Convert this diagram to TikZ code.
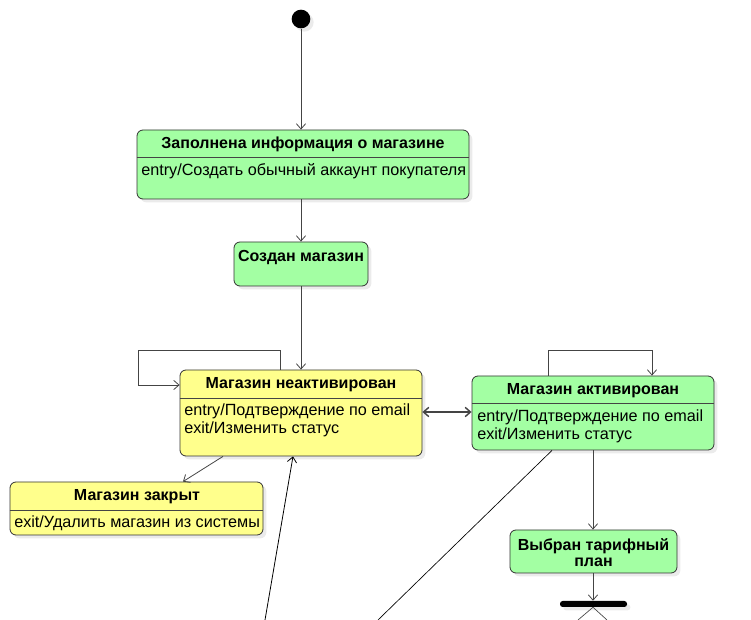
\documentclass[tikz,border=0pt]{standalone}
\usepackage{fontspec}
\setmainfont{Liberation Sans}
\usetikzlibrary{%
  arrows.meta,%
  calc,%
  fit,%
  shadows,%
}

\definecolor{stategreen}{RGB}{163,255,163}
\definecolor{stateyellow}{RGB}{255,255,140}
\definecolor{lineclr}{RGB}{68,68,68}

\tikzset{
  state/.style={draw=black!80, line width=0.6pt, rounded corners=4.5pt,
    inner sep=0pt, drop shadow={shadow xshift=2.5pt, shadow yshift=-2.5pt,
    fill=black!8, opacity=1}},
  greenstate/.style={state, fill=stategreen},
  yellowstate/.style={state, fill=stateyellow},
  title/.style={font=\fontsize{12}{12}\selectfont\bfseries, inner sep=0pt},
  action/.style={font=\fontsize{12.15}{13.5}\selectfont, anchor=west,
    inner sep=0pt},
  flow/.style={draw=lineclr, line width=0.6pt},
}

\begin{document}
\begin{tikzpicture}[x=0.75pt, y=-0.75pt,
    >={Straight Barb[length=4pt, width=7pt]}]

      \useasboundingbox (0, 0) rectangle (751, 620);

      % initial state
      \node [circle, fill=black, minimum size=14pt, inner sep=0pt,
        drop shadow={shadow xshift=2.5pt, shadow yshift=-2.5pt,
        fill=black!8, opacity=1}] (init) at (301, 19) {};

      % filled info
      \node [greenstate, fit={(137, 130) (469, 199)}] (info) {};
      \draw [flow] (info.west |- 0, 157) -- (info.east |- 0, 157);
      \node [title] (infoT) at (303, 144) {Заполнена информация о магазине};
      \node [action] (infoA) at (141, 171) {entry/Создать обычный аккаунт покупателя};

      % shop created
      \node [greenstate, fit={(234, 242) (368, 286)}] (created) {};
      \node [title] (createdT) at (301, 258) {Создан магазин};

      % shop inactive
      \node [yellowstate, fit={(180, 370) (422, 456)}] (inactive) {};
      \draw [flow] (inactive.west |- 0, 398) -- (inactive.east |- 0, 398);
      \node [title] (inactiveT) at (301, 385) {Магазин неактивирован};
      \node [action] (inactiveA) at (184, 411) {entry/Подтверждение по email};
      \node [action] (inactiveB) at (184, 429) {exit/Изменить статус};

      % shop closed
      \node [yellowstate, fit={(10, 482) (263, 535)}] (closed) {};
      \draw [flow] (closed.west |- 0, 510) -- (closed.east |- 0, 510);
      \node [title] (closedT) at (137, 497) {Магазин закрыт};
      \node [action] (closedA) at (14, 523) {exit/Удалить магазин из системы};

      % shop active
      \node [greenstate, fit={(472, 376) (714, 450)}] (active) {};
      \draw [flow] (active.west |- 0, 403) -- (active.east |- 0, 403);
      \node [title] (activeT) at (593, 391) {Магазин активирован};
      \node [action] (activeA) at (477, 417) {entry/Подтверждение по email};
      \node [action] (activeB) at (477, 435) {exit/Изменить статус};

      % plan chosen
      \node [greenstate, fit={(510, 530) (677, 573)}] (plan) {};
      \node [title, align=center] (planT) at (593.5, 553)
        {Выбран тарифный \\ план};

      % fork bar
      \node [fill=black, rounded corners=2pt, inner sep=0pt,
        fit={(560, 601) (627, 607)},
        drop shadow={shadow xshift=2.5pt, shadow yshift=-2.5pt,
        fill=black!8, opacity=1}] (bar) {};

      % loose ends
      \coordinate (barL) at (578, 620);
      \coordinate (barR) at (607, 620);
      \coordinate (fromActive) at (378, 620);
      \coordinate (toInactive) at (265, 620);

      % transitions
      \draw [flow, ->] (init) -- (init |- info.north);
      \draw [flow, ->] (info.south -| created) -- (created.north);
      \draw [flow, ->] (created) -- (created |- inactive.north);
      \draw [flow, ->] (inactive.north -| 280, 0) -- (280, 350) -- (138, 350)
        -- (138, 385) -- (inactive.west |- 0, 385);
      \draw [flow, ->] (inactive.south -| 223, 0) -- (closed.north -| 183, 0);
      \draw [flow, line width=1.1pt, <->] (inactive.east |- 0, 412)
        -- (active.west |- 0, 412);
      \draw [flow, ->] (active.north -| 548, 0) -- (548, 350) -- (652, 350)
        -- (active.north -| 652, 0);
      \draw [flow, ->] (active.south -| 593, 0) -- (plan.north -| 593, 0);
      \draw [flow, ->] (plan.south -| 593, 0) -- (bar.north -| 593, 0);
      \draw [flow, line width=0.5pt] (bar.south -| 593, 0) -- (barL);
      \draw [flow, line width=0.5pt] (bar.south -| 593, 0) -- (barR);
      \draw [black, line width=0.5pt] (active.south -| 552, 0) -- (fromActive);
      \draw [black, line width=0.6pt, ->] (toInactive) -- (inactive.south -| 293, 0);

    \end{tikzpicture}
\end{document}
